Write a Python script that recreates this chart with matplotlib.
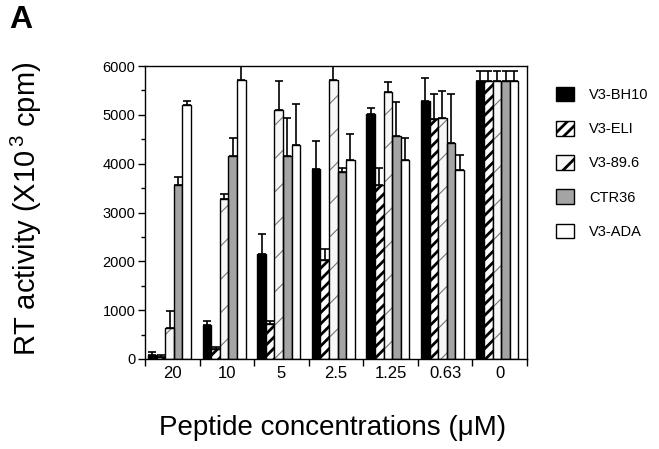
import matplotlib
matplotlib.use("Agg")
import matplotlib.pyplot as plt
from matplotlib.patches import Patch
from matplotlib.ticker import MultipleLocator, FixedLocator
import numpy as np

plt.rcParams['font.family'] = ['Liberation Sans', 'DejaVu Sans']
plt.rcParams['mathtext.fontset'] = 'custom'
plt.rcParams['mathtext.rm'] = 'Liberation Sans'
plt.rcParams['hatch.linewidth'] = 2.0

# data
concentrations = ['20', '10', '5', '2.5', '1.25', '0.63', '0']
peptides = ['V3-BH10', 'V3-ELI', 'V3-89.6', 'CTR36', 'V3-ADA']

bh10 = [90, 700, 2150, 3890, 5010, 5280, 5690]
eli = [50, 200, 720, 2020, 3570, 4910, 5690]
v896 = [630, 3280, 5090, 5710, 5470, 4940, 5690]
ctr36 = [3570, 4150, 4150, 3830, 4560, 4430, 5690]
ada = [5210, 5710, 4390, 4080, 4070, 3870, 5690]

bh10_top = [150, 770, 2560, 4460, 5140, 5760, 5890]
eli_top = [80, 250, 770, 2260, 3910, 5420, 5890]
v896_top = [980, 3380, 5690, 5990, 5680, 5480, 5890]
ctr36_top = [3720, 4520, 4940, 3910, 5270, 5420, 5890]
ada_top = [5280, 5990, 5220, 4600, 4520, 4180, 5890]

series = [bh10, eli, v896, ctr36, ada]
tops = [bh10_top, eli_top, v896_top, ctr36_top, ada_top]
styles = [
    dict(facecolor='black', hatch=None),
    dict(facecolor='white', hatch='///'),
    dict(facecolor='#f7f7f7', hatch='/'),
    dict(facecolor='#a4a4a4', hatch=None),
    dict(facecolor='white', hatch=None),
]

fig = plt.figure(figsize=(6.59, 4.49), dpi=100)
ax = fig.add_axes([145/659, 1-359/449, 382/659, 293/449])

x = np.arange(len(concentrations))
w = 0.157
shift = -0.05
for i, (vals, top, st) in enumerate(zip(series, tops, styles)):
    xs = x + shift + (i - 2) * w
    vals = np.array(vals)
    up = np.array(top) - vals
    ax.errorbar(xs, vals, yerr=[np.zeros_like(up), up], fmt='none',
                ecolor='black', elinewidth=1.2, capsize=3.2, capthick=1.2, zorder=1)
    if i == 2:
        bars = ax.bar(xs, vals, w, color=st['facecolor'], edgecolor='#777777',
                      hatch='/', linewidth=0, zorder=2)
        for b in bars:
            try:
                b.set_hatch_linewidth(0.8)
            except AttributeError:
                pass
        ax.bar(xs, vals, w, fill=False, edgecolor='black', linewidth=1.0, zorder=3)
    else:
        ax.bar(xs, vals, w, color=st['facecolor'], edgecolor='black',
               hatch=st['hatch'], linewidth=1.0, zorder=2)

ax.set_xlim(-0.5, len(concentrations) - 0.5)
ax.set_ylim(0, 6000)
ax.yaxis.set_major_locator(MultipleLocator(1000))
ax.yaxis.set_minor_locator(MultipleLocator(500))
ax.xaxis.set_major_locator(FixedLocator(np.arange(-0.5, len(concentrations), 1.0)))
ax.xaxis.set_minor_locator(FixedLocator(x))
ax.set_xticklabels([])
ax.set_xticklabels(concentrations, minor=True)
ax.tick_params(axis='x', which='major', direction='out', length=5, width=1)
ax.tick_params(axis='x', which='minor', length=0, pad=5, labelsize=12)
ax.tick_params(axis='y', which='major', direction='out', length=5, width=1, labelsize=10.5, pad=2)
ax.tick_params(axis='y', which='minor', direction='out', length=3, width=1)
for s in ax.spines.values():
    s.set_linewidth(1.0)

fig.text(26/659, 1-209/449, 'RT activity (X10$^{\\,3}$ cpm)', rotation=90,
         ha='center', va='center', fontsize=21)
fig.text(333/659, 1-428/449, 'Peptide concentrations (\u03bcM)',
         ha='center', va='center', fontsize=20)
fig.text(9/659, 1-20/449, 'A', fontsize=23, fontweight='bold', ha='left', va='center')

handles = []
for st, name in zip(styles, peptides):
    if name == 'V3-89.6':
        handles.append(Patch(facecolor='#f7f7f7', edgecolor='black', hatch='/', label=name))
    else:
        handles.append(Patch(facecolor=st['facecolor'], edgecolor='black',
                             hatch=st['hatch'], label=name))
fig.legend(handles=handles, loc='upper left', bbox_to_anchor=(556/659, 1-87/449),
           bbox_transform=fig.transFigure, frameon=False, fontsize=10.5,
           handlelength=1.25, handleheight=1.15, labelspacing=1.3,
           handletextpad=1.0, borderpad=0, borderaxespad=0)

fig.savefig('out.png', dpi=100)
